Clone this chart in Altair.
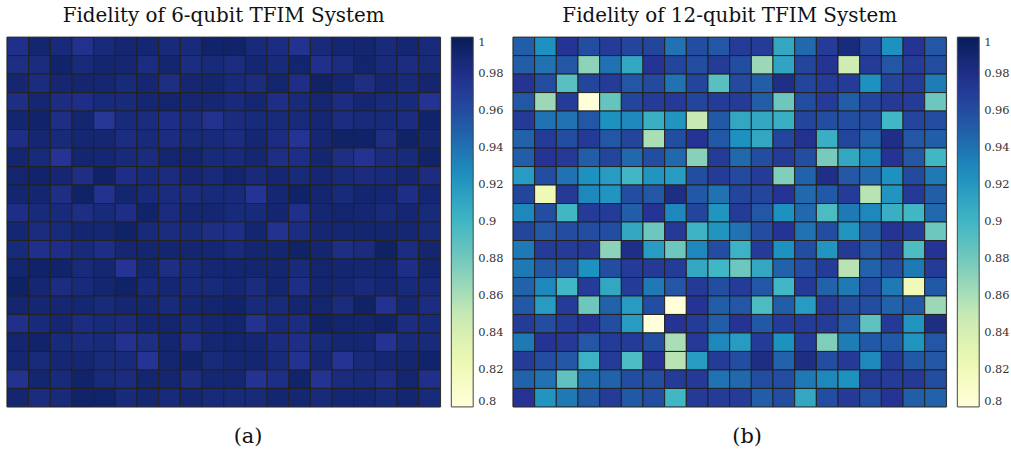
import altair as alt
import pandas as pd

# Fidelity values, rows top-to-bottom, columns left-to-right (20 x 20)
fid6 = [
    [.979,.99,.986,.978,.986,.989,.989,.986,.986,.992,.992,.986,.983,.977,.986,.989,.99,.986,.989,.986],
    [.982,.984,.992,.986,.99,.989,.983,.99,.983,.986,.983,.989,.986,.991,.979,.983,.991,.986,.983,.986],
    [.989,.984,.989,.99,.989,.986,.989,.982,.989,.99,.986,.984,.991,.981,.994,.989,.982,.989,.986,.99],
    [.982,.989,.983,.981,.986,.986,.989,.991,.989,.989,.986,.989,.981,.986,.989,.983,.989,.986,.986,.976],
    [.99,.992,.982,.99,.974,.986,.984,.981,.984,.978,.984,.986,.986,.986,.989,.983,.986,.986,.983,.992],
    [.981,.989,.986,.989,.989,.983,.986,.983,.986,.986,.983,.989,.983,.975,.989,.994,.993,.982,.994,.989],
    [.99,.986,.975,.99,.989,.986,.984,.991,.991,.986,.986,.989,.982,.981,.99,.982,.976,.984,.986,.992],
    [.991,.992,.989,.982,.993,.981,.986,.984,.989,.986,.991,.986,.989,.986,.989,.986,.984,.986,.989,.983],
    [.99,.99,.982,.994,.977,.99,.986,.984,.984,.986,.986,.975,.989,.993,.99,.986,.99,.989,.981,.989],
    [.981,.986,.986,.982,.986,.981,.992,.984,.989,.989,.986,.986,.99,.979,.989,.991,.989,.986,.989,.986],
    [.989,.984,.986,.99,.989,.994,.986,.984,.986,.982,.981,.99,.977,.983,.989,.989,.99,.99,.989,.986],
    [.986,.979,.981,.986,.981,.989,.99,.99,.99,.989,.986,.99,.99,.994,.99,.982,.984,.995,.983,.99],
    [.99,.993,.992,.986,.989,.975,.989,.982,.986,.989,.99,.99,.99,.986,.991,.99,.989,.99,.981,.99],
    [.995,.989,.983,.986,.99,.994,.986,.989,.986,.986,.989,.984,.99,.981,.99,.989,.986,.989,.986,.986],
    [.99,.989,.989,.989,.986,.989,.989,.986,.989,.991,.992,.986,.986,.99,.991,.984,.994,.977,.989,.983],
    [.979,.986,.989,.983,.986,.984,.989,.991,.986,.989,.991,.977,.986,.983,.994,.991,.99,.992,.983,.986],
    [.99,.992,.986,.984,.986,.977,.982,.99,.981,.989,.991,.989,.984,.981,.986,.989,.989,.976,.986,.986],
    [.989,.986,.989,.989,.986,.986,.975,.99,.992,.986,.989,.99,.986,.977,.989,.975,.986,.989,.99,.992],
    [.977,.99,.986,.992,.986,.984,.99,.99,.983,.989,.989,.976,.981,.992,.976,.984,.986,.981,.991,.979],
    [.99,.984,.986,.992,.992,.986,.989,.986,.989,.986,.986,.986,.99,.989,.986,.989,.989,.986,.99,.986],
]

fid12 = [
    [.95,.925,.975,.96,.97,.965,.965,.94,.96,.955,.97,.97,.91,.945,.97,.985,.965,.925,.975,.955],
    [.95,.94,.955,.87,.94,.91,.975,.965,.96,.97,.96,.865,.912,.965,.975,.845,.97,.955,.97,.96],
    [.975,.96,.89,.965,.97,.955,.962,.94,.965,.89,.962,.95,.98,.965,.97,.97,.925,.965,.97,.935],
    [.955,.865,.97,.80,.885,.965,.97,.972,.965,.97,.97,.95,.882,.96,.97,.95,.965,.972,.97,.882],
    [.972,.94,.94,.955,.925,.93,.905,.922,.85,.953,.91,.91,.905,.965,.96,.96,.96,.90,.965,.96],
    [.948,.97,.96,.972,.955,.965,.86,.96,.975,.953,.925,.91,.965,.977,.905,.965,.948,.98,.955,.95],
    [.95,.975,.972,.95,.965,.945,.96,.945,.872,.97,.945,.96,.97,.96,.878,.91,.93,.975,.955,.90],
    [.918,.96,.94,.925,.918,.90,.922,.918,.96,.97,.962,.97,.875,.948,.98,.955,.945,.925,.962,.937],
    [.965,.822,.972,.93,.922,.96,.955,.982,.953,.94,.965,.965,.975,.945,.953,.97,.855,.922,.972,.95],
    [.93,.96,.90,.97,.97,.95,.975,.93,.965,.922,.97,.955,.925,.945,.895,.937,.93,.905,.90,.945],
    [.965,.955,.96,.96,.96,.91,.882,.972,.903,.922,.94,.96,.975,.94,.96,.922,.95,.975,.97,.882],
    [.937,.97,.97,.972,.87,.98,.918,.882,.93,.96,.903,.97,.925,.96,.922,.972,.955,.97,.895,.975],
    [.937,.953,.953,.925,.96,.97,.972,.97,.91,.90,.882,.91,.948,.96,.97,.855,.948,.96,.937,.97],
    [.948,.93,.90,.97,.91,.97,.937,.955,.972,.96,.97,.955,.90,.972,.948,.937,.96,.937,.82,.953],
    [.953,.918,.97,.882,.948,.918,.96,.80,.975,.95,.955,.895,.95,.918,.97,.96,.96,.948,.953,.865],
    [.97,.96,.97,.975,.96,.918,.80,.975,.97,.95,.975,.953,.97,.97,.97,.955,.888,.972,.922,.982],
    [.937,.975,.972,.955,.97,.97,.96,.86,.972,.93,.918,.97,.925,.97,.875,.935,.953,.953,.922,.955],
    [.97,.96,.955,.903,.97,.895,.975,.855,.918,.97,.96,.982,.948,.982,.96,.972,.93,.97,.953,.955],
    [.948,.94,.888,.94,.948,.96,.96,.97,.972,.94,.945,.96,.96,.937,.93,.925,.972,.97,.972,.96],
    [.975,.922,.937,.953,.97,.953,.96,.90,.972,.97,.97,.95,.96,.91,.96,.972,.96,.975,.95,.948],
]

titles = ["Fidelity of 6-qubit TFIM System", "Fidelity of 12-qubit TFIM System"]
captions = ["(a)", "(b)"]
legend_ticks = [0.8, 0.82, 0.84, 0.86, 0.88, 0.9, 0.92, 0.94, 0.96, 0.98, 1.0]

# YlGnBu colormap stops over the 0.8 .. 1.0 colour axis
cmap_stops = [0.8, 0.825, 0.85, 0.875, 0.9, 0.925, 0.95, 0.975, 1.0]
cmap_colors = ["#ffffd9", "#edf8b1", "#c7e9b4", "#7fcdbb", "#41b6c4",
               "#1d91c0", "#225ea8", "#253494", "#081d58"]

SERIF = "DejaVu Serif"


def to_frame(grid):
    recs = []
    for r, row in enumerate(grid):
        for c, v in enumerate(row):
            recs.append({"row": r, "col": c, "fidelity": v})
    return pd.DataFrame(recs)


def panel(grid, title, caption, cap_x):
    return (
        alt.Chart(to_frame(grid))
        .mark_rect(stroke="#222222", strokeWidth=1)
        .encode(
            x=alt.X(
                "col:O",
                axis=alt.Axis(
                    labels=False, ticks=False, domain=False, title=caption,
                    titleFont=SERIF, titleFontSize=21, titleFontWeight="normal",
                    titleColor="#111111", titlePadding=19, titleX=cap_x,
                ),
            ),
            y=alt.Y("row:O", axis=None),
            color=alt.Color(
                "fidelity:Q",
                scale=alt.Scale(domain=cmap_stops, range=cmap_colors, interpolate="rgb"),
                legend=alt.Legend(
                    title=None, orient="right", gradientLength=372, gradientThickness=22,
                    values=legend_ticks, format=".2~f", labelFont=SERIF, labelFontSize=11.5,
                    labelColor="#333333", offset=11, gradientStrokeColor="#444444",
                    gradientStrokeWidth=1, labelOverlap=False, labelOffset=5,
                    labelBaseline="middle",
                ),
            ),
        )
        .properties(
            width=436, height=372,
            title=alt.TitleParams(title, font=SERIF, fontSize=20, fontWeight="normal",
                                  color="#111111", offset=11, anchor="middle"),
        )
    )


chart = (
    alt.hconcat(
        panel(fid6, titles[0], captions[0], 242),
        panel(fid12, titles[1], captions[1], 235),
        spacing=7,
    )
    .resolve_scale(color="independent")
    .properties(padding={"left": 6, "top": 4, "right": 0, "bottom": 0})
    .configure_view(stroke="#555555")
    .configure(background="white")
)

chart.save("out.html", embed_options={"renderer": "svg", "actions": False})
